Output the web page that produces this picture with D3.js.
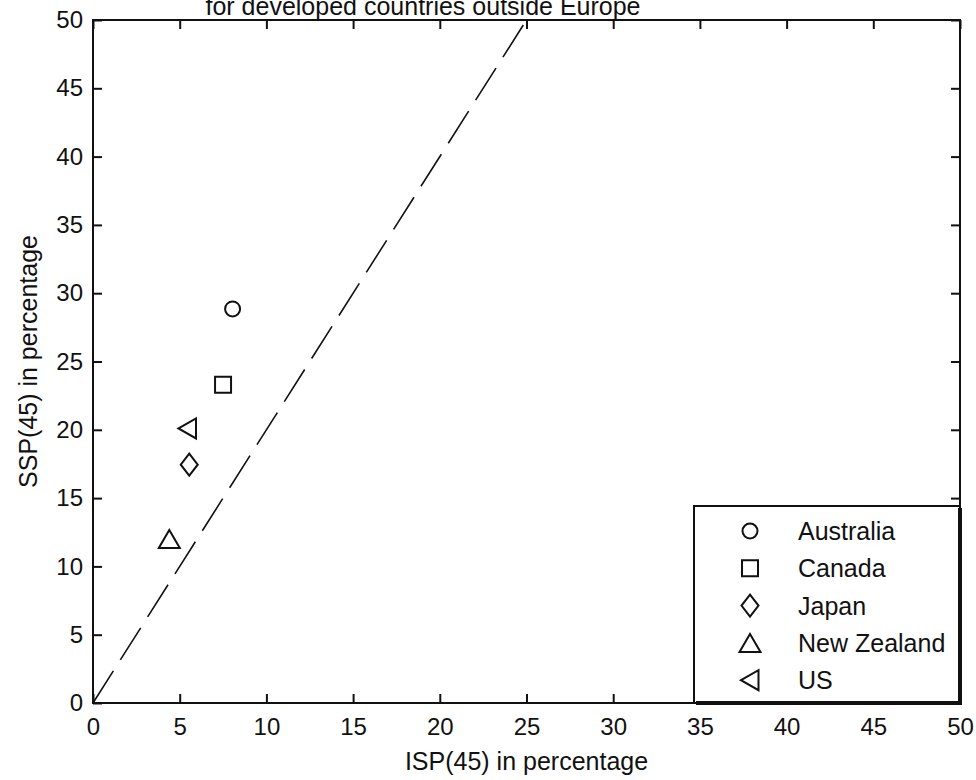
<!DOCTYPE html>
<html>
<head>
<meta charset="utf-8">
<script src="https://cdn.jsdelivr.net/npm/d3@7.9.0/dist/d3.min.js"></script>
<style>
  body { margin: 0; background: #fff; }
  svg { display: block; font-family: "Liberation Sans", Arial, sans-serif; }
</style>
</head>
<body>
<div id="chart"></div>
<script>
const countries = ['Australia', 'Canada', 'Japan', 'New Zealand', 'US'];
const markers = ['circle', 'square', 'diamond', 'triangleUp', 'triangleLeft'];
const isp = [8.05, 7.5, 5.55, 4.4, 5.45];
const ssp = [28.85, 23.3, 17.45, 12.0, 20.1];
const refX = [0, 25];
const refY = [0, 50];
const xTicks = [0, 5, 10, 15, 20, 25, 30, 35, 40, 45, 50];
const yTicks = [0, 5, 10, 15, 20, 25, 30, 35, 40, 45, 50];
const title = 'for developed countries outside Europe';
const xLabel = 'ISP(45) in percentage';
const yLabel = 'SSP(45) in percentage';

const width = 976;
const height = 780;
const margin = { top: 20, right: 16, bottom: 77, left: 93 };
const plotW = width - margin.left - margin.right;
const plotH = height - margin.top - margin.bottom;
const ink = '#111';

const svg = d3.select('#chart')
  .append('svg')
  .attr('width', width)
  .attr('height', height);

const xScale = d3.scaleLinear().domain([0, 50]).range([margin.left, margin.left + plotW]);
const yScale = d3.scaleLinear().domain([0, 50]).range([margin.top + plotH, margin.top]);

// marker shapes, centred on 0,0
function markerPath(kind) {
  const p = d3.path();
  if (kind === 'circle') {
    p.arc(0, 0, 7.5, 0, 2 * Math.PI);
  } else if (kind === 'square') {
    p.rect(-8, -8, 16, 16);
  } else if (kind === 'diamond') {
    p.moveTo(0, -11); p.lineTo(8.5, 0); p.lineTo(0, 11); p.lineTo(-8.5, 0); p.closePath();
  } else if (kind === 'triangleUp') {
    p.moveTo(0, -9); p.lineTo(10.5, 9); p.lineTo(-10.5, 9); p.closePath();
  } else {
    p.moveTo(-9, 0); p.lineTo(8.5, -10); p.lineTo(8.5, 10); p.closePath();
  }
  return p.toString();
}

function styleAxis(g) {
  g.select('.domain').remove();
  g.selectAll('.tick line').attr('stroke', ink).attr('stroke-width', 2);
  g.selectAll('.tick text').attr('fill', ink).attr('font-size', 24);
}

// bottom axis, ticks pointing inward
svg.append('g')
  .attr('transform', `translate(0,${margin.top + plotH})`)
  .call(d3.axisBottom(xScale).tickValues(xTicks).tickSizeInner(-9).tickSizeOuter(0).tickPadding(15))
  .call(styleAxis);

// top axis, ticks only
svg.append('g')
  .attr('transform', `translate(0,${margin.top})`)
  .call(d3.axisTop(xScale).tickValues(xTicks).tickSizeInner(-9).tickSizeOuter(0).tickFormat(''))
  .call(styleAxis);

// left axis
svg.append('g')
  .attr('transform', `translate(${margin.left},0)`)
  .call(d3.axisLeft(yScale).tickValues(yTicks).tickSizeInner(-9).tickSizeOuter(0).tickPadding(10))
  .call(styleAxis);

// right axis, ticks only
svg.append('g')
  .attr('transform', `translate(${margin.left + plotW},0)`)
  .call(d3.axisRight(yScale).tickValues(yTicks).tickSizeInner(-9).tickSizeOuter(0).tickFormat(''))
  .call(styleAxis);

// axes box
svg.append('rect')
  .attr('x', xScale(0))
  .attr('y', yScale(50))
  .attr('width', xScale(50) - xScale(0))
  .attr('height', yScale(0) - yScale(50))
  .attr('fill', 'none')
  .attr('stroke', ink)
  .attr('stroke-width', 2);

// reference line
const line = d3.line().x(d => xScale(d[0])).y(d => yScale(d[1]));
svg.append('path')
  .datum(d3.zip(refX, refY))
  .attr('d', line)
  .attr('fill', 'none')
  .attr('stroke', ink)
  .attr('stroke-width', 1.6)
  .attr('stroke-dasharray', '38,13');

// points
svg.append('g')
  .selectAll('path')
  .data(countries)
  .join('path')
  .attr('transform', (d, i) => `translate(${xScale(isp[i])},${yScale(ssp[i])})`)
  .attr('d', (d, i) => markerPath(markers[i]))
  .attr('fill', 'none')
  .attr('stroke', ink)
  .attr('stroke-width', 2);

// legend
const lx = 694, ly = 506;
const lw = xScale(50) - lx, lh = yScale(0) - ly;
const legend = svg.append('g');
legend.append('rect')
  .attr('x', lx).attr('y', ly)
  .attr('width', lw).attr('height', lh)
  .attr('fill', '#fff')
  .attr('stroke', ink)
  .attr('stroke-width', 2);
legend.append('path')
  .attr('d', `M${lx + 2},${ly + lh} H${lx + lw} V${ly + 2}`)
  .attr('fill', 'none')
  .attr('stroke', ink)
  .attr('stroke-width', 4);

const rows = legend.selectAll('g.row')
  .data(countries)
  .join('g')
  .attr('class', 'row')
  .attr('transform', (d, i) => `translate(${lx}, ${ly + 25 + i * 37.3})`);
rows.append('path')
  .attr('transform', 'translate(56,0)')
  .attr('d', (d, i) => markerPath(markers[i]))
  .attr('fill', 'none')
  .attr('stroke', ink)
  .attr('stroke-width', 2);
rows.append('text')
  .attr('x', 104)
  .attr('dy', '0.36em')
  .attr('font-size', 25)
  .attr('fill', ink)
  .text(d => d);

// title and axis labels
svg.append('text')
  .attr('x', 423)
  .attr('y', 15)
  .attr('text-anchor', 'middle')
  .attr('font-size', 25)
  .attr('fill', ink)
  .text(title);

svg.append('text')
  .attr('x', (xScale(0) + xScale(50)) / 2)
  .attr('y', 770)
  .attr('text-anchor', 'middle')
  .attr('font-size', 25)
  .attr('fill', ink)
  .text(xLabel);

svg.append('text')
  .attr('transform', `translate(37,${(yScale(0) + yScale(50)) / 2}) rotate(-90)`)
  .attr('text-anchor', 'middle')
  .attr('font-size', 25)
  .attr('fill', ink)
  .text(yLabel);
</script>
</body>
</html>
